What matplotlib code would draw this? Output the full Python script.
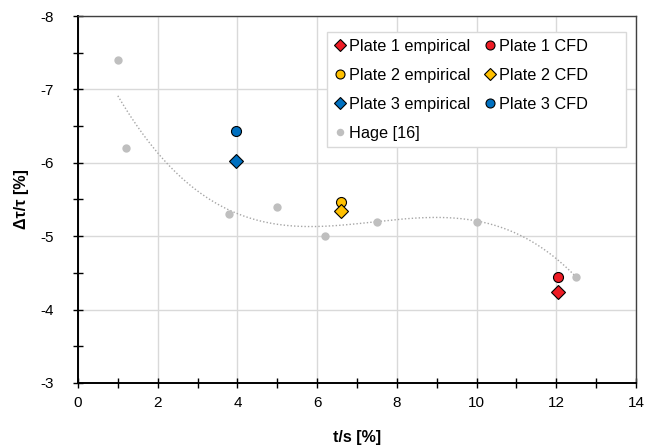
import numpy as np
import matplotlib
matplotlib.use("Agg")
import matplotlib.pyplot as plt
from matplotlib.patches import Rectangle
from matplotlib.ticker import MultipleLocator

plt.rcParams["font.family"] = ["Liberation Sans", "DejaVu Sans"]
plt.rcParams["axes.unicode_minus"] = False

# Hage [16] reference data
hage_x = [1.0, 1.2, 3.8, 5.0, 6.2, 7.5, 10.0, 12.5]
hage_y = [-7.4, -6.2, -5.3, -5.4, -5.0, -5.2, -5.2, -4.45]

# plates: (x, empirical, CFD)
plate1_x, plate1_emp, plate1_cfd = 12.05, -4.24, -4.45
plate2_x, plate2_emp, plate2_cfd = 6.6, -5.46, -5.35
plate3_x, plate3_emp, plate3_cfd = 3.97, -6.02, -6.43

RED = "#EE1C25"
YELLOW = "#FFC000"
BLUE = "#0070C0"
GRAY = "#BFBFBF"


def main():
    fig = plt.figure(figsize=(6.46, 4.47), dpi=100)
    ax = fig.add_axes([0.1207, 0.1432, 0.8638, 0.821])

    # polynomial trendline (order 3) on Hage data
    coef = np.polyfit(hage_x, hage_y, 3)
    xs = np.linspace(min(hage_x), max(hage_x), 200)
    ax.plot(xs, np.polyval(coef, xs), linestyle=(0, (1, 1.5)), color="#A6A6A6",
            linewidth=1.0, zorder=2)

    ms_c = 7.2
    ms_d = 7.0
    ec = dict(markeredgecolor="black", markeredgewidth=0.8, linestyle="none", zorder=4)

    h1e, = ax.plot([plate1_x], [plate1_emp], marker="D", markersize=ms_d, color=RED, **ec)
    h2e, = ax.plot([plate2_x], [plate2_emp], marker="o", markersize=ms_c, color=YELLOW, **ec)
    h3e, = ax.plot([plate3_x], [plate3_emp], marker="D", markersize=ms_d, color=BLUE, **ec)
    hh, = ax.plot(hage_x, hage_y, marker="o", markersize=6.0, color=GRAY,
                  markeredgewidth=0, linestyle="none", zorder=3)
    h1c, = ax.plot([plate1_x], [plate1_cfd], marker="o", markersize=ms_c, color=RED, **ec)
    h2c, = ax.plot([plate2_x], [plate2_cfd], marker="D", markersize=ms_d, color=YELLOW, **ec)
    h3c, = ax.plot([plate3_x], [plate3_cfd], marker="o", markersize=ms_c, color=BLUE, **ec)

    ax.set_xlim(0, 14)
    ax.set_ylim(-3, -8)
    ax.xaxis.set_major_locator(MultipleLocator(2))
    ax.xaxis.set_minor_locator(MultipleLocator(1))
    ax.yaxis.set_major_locator(MultipleLocator(1))
    ax.yaxis.set_minor_locator(MultipleLocator(0.5))
    ax.tick_params(which="both", direction="inout", colors="black", labelsize=11)
    ax.tick_params(which="major", length=7, width=1.0)
    ax.tick_params(which="minor", length=7, width=1.0)
    ax.tick_params(axis="x", pad=6)
    ax.tick_params(axis="y", pad=14)
    ax.grid(which="major", color="#D9D9D9", linewidth=1.0)
    ax.set_axisbelow(True)

    for side in ["left", "bottom"]:
        ax.spines[side].set_linewidth(1.4)
        ax.spines[side].set_color("black")
    for side in ["top", "right"]:
        ax.spines[side].set_linewidth(1.0)
        ax.spines[side].set_color("#404040")

    ax.set_xlabel("t/s [%]", fontsize=11.5, fontweight="bold", labelpad=14)
    ax.set_ylabel("Δτ/τ [%]", fontsize=11.5, fontweight="bold", labelpad=8)

    # legend box drawn separately (Excel-style, wider than its text)
    box = Rectangle((0.446, 0.643), 0.536, 0.313, transform=ax.transAxes,
                    facecolor="white", edgecolor="#D9D9D9", linewidth=1.0, zorder=5)
    ax.add_patch(box)

    handles = [h1e, h2e, h3e, hh, h1c, h2c, h3c]
    labels = ["Plate 1 empirical", "Plate 2 empirical", "Plate 3 empirical", "Hage [16]",
              "Plate 1 CFD", "Plate 2 CFD", "Plate 3 CFD"]
    leg = ax.legend(handles, labels, ncol=2, loc="upper left",
                    bbox_to_anchor=(0.446, 0.962), borderaxespad=0, fontsize=11.7,
                    markerscale=0.9, handlelength=0.5, handletextpad=0.3,
                    columnspacing=1.0, labelspacing=0.86, borderpad=0.55,
                    frameon=False)
    leg.set_zorder(6)

    fig.savefig("out.png", dpi=100)


if __name__ == "__main__":
    main()
